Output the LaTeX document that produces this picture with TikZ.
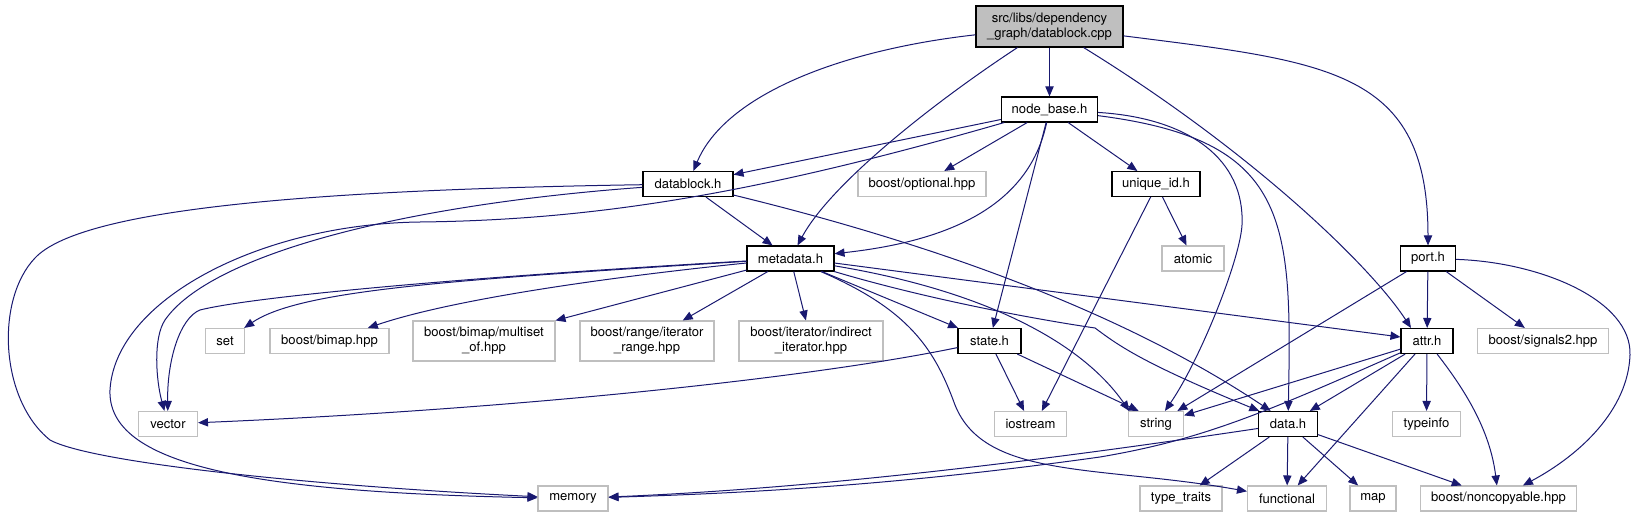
\documentclass[tikz,border=0pt]{standalone}
\usepackage{fontspec}
\setmainfont{TeX Gyre Heros}
\usepackage{tikz}
\usetikzlibrary{arrows.meta}
\definecolor{edgec}{RGB}{25,25,112}
\definecolor{syscol}{RGB}{191,191,191}
\definecolor{rootfill}{RGB}{191,191,191}

\begin{document}
\begin{tikzpicture}[x=0.75pt, y=-0.75pt, font=\fontsize{9.8}{11.25}\selectfont,
  >={Triangle[length=7.5pt, width=6.2pt]},
  box/.style={rectangle, inner sep=0pt, minimum height=18.75pt, fill=white, line width=0.8pt},
  hdr/.style={box, draw=black},
  sys/.style={box, draw=syscol},
  twoline/.style={align=center, minimum height=30pt},
  dep/.style={->, draw=edgec, line width=0.75pt}]

\useasboundingbox (0,0) rectangle (1636,517);

%% ── the source file ──────────────────────────────────────────────
\node[box, draw=black, fill=rootfill, align=center, minimum width=110.25pt, minimum height=30.75pt] (dbcpp) at (1049.5,26.5) {src/libs/dependency\\\_graph/datablock.cpp};

%% ── project headers ──────────────────────────────────────────────
\node[hdr, minimum width=72pt]    (nodebase)  at (1049.5,109.5) {node\_base.h};
\node[hdr, minimum width=67.5pt]  (datablock) at (688,184)      {datablock.h};
\node[hdr, minimum width=66pt]    (uniqueid)  at (1156,184)     {unique\_id.h};
\node[hdr, minimum width=65.25pt] (metadata)  at (790.5,258.5)  {metadata.h};
\node[hdr, minimum width=41.25pt] (port)      at (1428,258.5)   {port.h};
\node[hdr, minimum width=47.25pt] (state)     at (989.5,341)    {state.h};
\node[hdr, minimum width=39pt]    (attr)      at (1427,341)     {attr.h};
\node[hdr, minimum width=44.25pt] (data)      at (1288,424)     {data.h};

%% ── system / boost headers ───────────────────────────────────────
\node[sys, minimum width=96pt]    (optional)  at (922,184)      {boost/optional.hpp};
\node[sys, minimum width=46.5pt]  (atomic)    at (1193,258.5)   {atomic};
\node[sys, minimum width=29.6pt]  (set)       at (225,341)      {set};
\node[sys, minimum width=89.25pt] (bimap)     at (329.5,341)    {boost/bimap.hpp};
\node[sys, twoline, minimum width=106.5pt] (multiset)  at (484,341) {boost/bimap/multiset\\\_of.hpp};
\node[sys, twoline, minimum width=100.5pt] (iterrange) at (647,341) {boost/range/iterator\\\_range.hpp};
\node[sys, twoline, minimum width=108pt]   (indirect)  at (811,341) {boost/iterator/indirect\\\_iterator.hpp};
\node[sys, minimum width=98.25pt] (signals)   at (1543,341)     {boost/signals2.hpp};
\node[sys, minimum width=44.25pt] (vector)    at (168,424)      {vector};
\node[sys, minimum width=54pt]    (iostream)  at (1030.5,424)   {iostream};
\node[sys, minimum width=41.25pt] (string)    at (1156,424)     {string};
\node[sys, minimum width=51pt]    (typeinfo)  at (1426.5,424)   {typeinfo};
\node[sys, minimum width=52.5pt]  (memory)    at (573,498.5)    {memory};
\node[sys, minimum width=61.5pt]  (typetraits) at (1181,498.5)  {type\_traits};
\node[sys, minimum width=59.25pt] (functional) at (1287,498.5)  {functional};
\node[sys, minimum width=34.5pt]  (map)       at (1373,498.5)   {map};
\node[sys, minimum width=116.6pt] (noncopyable) at (1498.5,498.5) {boost/noncopyable.hpp};

%% ── datablock.cpp includes ───────────────────────────────────────
\draw[dep] (dbcpp) .. controls (840,50) and (725,95) .. (datablock);
\draw[dep] (dbcpp) .. controls (930,105) and (830,185) .. (metadata);
\draw[dep] (dbcpp) -- (nodebase);
\draw[dep] (dbcpp) .. controls (1250,150) and (1370,265) .. ([xshift=-12pt]attr.north);
\draw[dep] (dbcpp) .. controls (1330,62) and (1428,70) .. (port);

%% ── node_base.h includes ─────────────────────────────────────────
\draw[dep] (nodebase) -- (datablock);
\draw[dep] (nodebase) .. controls (763,192) and (600,220) .. (420,222)
  .. controls (260,224) and (115,300) .. (110,390)
  .. controls (107,465) and (250,492) .. (memory);
\draw[dep] (nodebase) -- (optional);
\draw[dep] (nodebase) -- (uniqueid);
\draw[dep] (nodebase) .. controls (1030,200) and (960,240) .. (metadata);
\draw[dep] (nodebase) -- (state);
\draw[dep] (nodebase) .. controls (1190,118) and (1245,160) .. (1242,225)
  .. controls (1240,260) and (1200,360) .. (string);
\draw[dep] (nodebase) .. controls (1290,140) and (1292,220) .. (data);

%% ── datablock.h includes ─────────────────────────────────────────
\draw[dep] (datablock) .. controls (300,190) and (80,210) .. (35,258)
  .. controls (-5,300) and (0,400) .. (50,440)
  .. controls (90,462) and (300,485) .. (memory);
\draw[dep] (datablock) .. controls (400,205) and (210,255) .. (165,320)
  .. controls (153,338) and (156,380) .. (vector);
\draw[dep] (datablock) -- (metadata);
\draw[dep] (datablock) .. controls (980,255) and (1150,330) .. ([xshift=-13pt]data.north);

%% ── unique_id.h includes ─────────────────────────────────────────
\draw[dep] (uniqueid) -- (atomic);
\draw[dep] ([xshift=-4pt]uniqueid.south) -- ([xshift=8.5pt]iostream.north);

%% ── metadata.h includes ──────────────────────────────────────────
\draw[dep] (metadata) .. controls (500,275) and (260,295) .. (200,310)
  .. controls (180,318) and (167,360) .. (vector);
\draw[dep] (metadata) .. controls (450,280) and (300,290) .. (set);
\draw[dep] (metadata) .. controls (600,278) and (450,300) .. (bimap);
\draw[dep] (metadata) -- (multiset.north east);
\draw[dep] (metadata) -- (iterrange);
\draw[dep] (metadata) -- (indirect);
\draw[dep] (metadata) -- (state);
\draw[dep] (metadata) .. controls (910,310) and (935,350) .. (955,405)
  .. controls (985,480) and (1100,465) .. (functional);
\draw[dep] (metadata) .. controls (980,290) and (1080,340) .. ([xshift=1pt]string.north west);
\draw[dep] (metadata) .. controls (930,300) and (1040,320) .. (1095,328)
  .. controls (1118,345) and (1140,362) .. ([xshift=1pt]data.north west);
\draw[dep] ([yshift=-3.4pt]metadata.east) -- ([yshift=3pt]attr.west);

%% ── port.h includes ──────────────────────────────────────────────
\draw[dep] (port) -- (string);
\draw[dep] (port) -- (attr);
\draw[dep] (port) -- (signals);
\draw[dep] (port) .. controls (1540,262) and (1632,300) .. (1630,355)
  .. controls (1628,410) and (1580,455) .. (noncopyable);

%% ── state.h includes ─────────────────────────────────────────────
\draw[dep] (state) .. controls (800,380) and (500,410) .. (vector);
\draw[dep] (state) -- (iostream);
\draw[dep] (state) -- ([xshift=-13pt]string.north);

%% ── attr.h includes ──────────────────────────────────────────────
\draw[dep] (attr) .. controls (1260,415) and (1200,440) .. (1100,457)
  .. controls (900,485) and (750,493) .. (memory);
\draw[dep] (attr) -- (string);
\draw[dep] (attr) -- (data);
\draw[dep] ([xshift=-9pt]attr.south) -- ([xshift=8pt]functional.north);
\draw[dep] (attr) -- (typeinfo);
\draw[dep] (attr) .. controls (1465,390) and (1490,430) .. (noncopyable);

%% ── data.h includes ──────────────────────────────────────────────
\draw[dep] (data) .. controls (1100,452) and (850,487) .. (memory);
\draw[dep] (data) -- (typetraits);
\draw[dep] (data) -- (functional);
\draw[dep] (data) -- (map);
\draw[dep] (data) -- (noncopyable);

\end{tikzpicture}
\end{document}
